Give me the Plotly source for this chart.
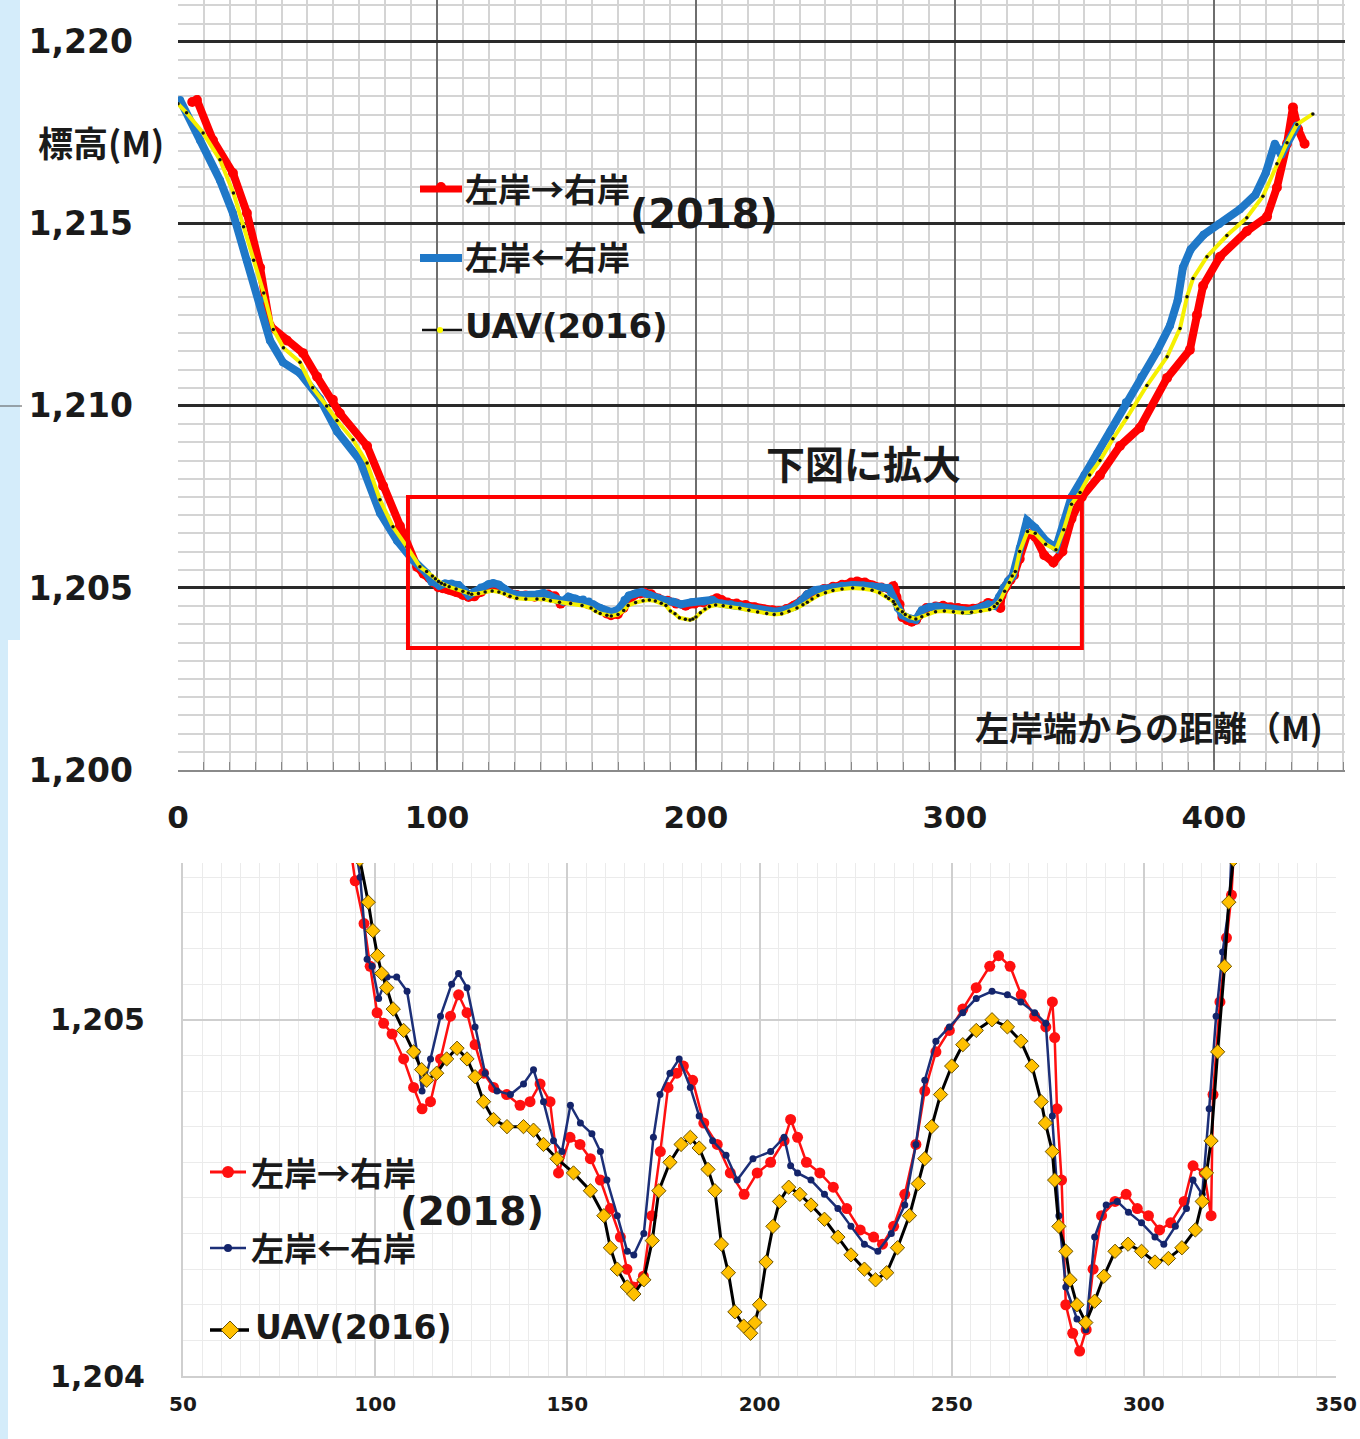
import plotly.graph_objects as go

# ---------------- data (distance from left bank [m], elevation [m]) ----------------
uav_x = [0.0, 3.3, 9.7, 16.2, 21.4, 25.3, 29.2, 33.1, 36.8, 40.7, 47.1, 52.0, 57.4, 61.4, 67.6, 73.0, 78.0, 83.0, 88.4, 93.4, 96.0,
         98.2, 99.4, 100.6, 101.7, 103.0, 104.7, 107.4, 110.0, 112.1, 113.4, 116.0, 118.6, 121.3, 123.9, 126.0, 128.2, 130.8, 134.3,
         138.6, 141.2, 143.8, 147.3, 151.6, 156.0, 159.5, 161.2, 163.0, 165.6, 167.3, 169.9, 172.1, 173.8, 176.7, 179.6, 182.0, 184.3,
         186.6, 188.4, 190.1, 191.9, 193.6, 195.9, 197.7, 198.8, 200.0, 201.7, 203.5, 205.2, 207.6, 210.5, 213.4, 216.9, 220.4, 223.8,
         227.3, 230.2, 233.1, 235.9, 239.0, 241.3, 243.0, 244.8, 247.1, 250.0, 252.9, 256.4, 260.5, 264.5, 268.0, 270.9, 273.3, 274.4,
         276.2, 276.8, 277.9, 279.7, 280.8, 282.6, 284.9, 287.2, 289.6, 292.5, 295.9, 299.4, 302.9, 306.4, 309.9, 313.4, 315.2, 316.3,
         317.5, 319.2, 321.0, 322.1, 323.3,
         325.0, 328.0, 331.0, 335.0, 339.0, 342.0, 345.0, 348.3, 352.0, 356.0, 361.0, 366.4, 374.1, 381.9, 386.9, 389.6, 391.9, 397.3,
         405.0, 412.7, 418.9, 424.3, 428.2, 432.0, 438.2]
uav_y = [1218.3, 1218.05, 1217.5, 1216.76, 1215.85, 1214.92, 1214.0, 1213.1, 1212.1, 1211.6, 1211.2, 1210.5, 1210.0, 1209.6, 1209.07, 1208.43, 1207.42, 1206.68, 1206.13, 1205.58, 1205.45,
         1205.33, 1205.25, 1205.18, 1205.13, 1205.09, 1205.03, 1204.97, 1204.91, 1204.86, 1204.83, 1204.85, 1204.89, 1204.92, 1204.89, 1204.84, 1204.77, 1204.72, 1204.70,
         1204.70, 1204.69, 1204.65, 1204.61, 1204.57, 1204.52, 1204.45, 1204.36, 1204.30, 1204.25, 1204.23, 1204.27, 1204.38, 1204.52, 1204.60, 1204.65, 1204.67, 1204.64,
         1204.58, 1204.52, 1204.37, 1204.29, 1204.18, 1204.14, 1204.12, 1204.15, 1204.20, 1204.32, 1204.42, 1204.49, 1204.53, 1204.51, 1204.48, 1204.44, 1204.39, 1204.34,
         1204.30, 1204.27, 1204.29, 1204.36, 1204.45, 1204.54, 1204.61, 1204.70, 1204.79, 1204.87, 1204.93, 1204.97, 1205.00, 1204.98, 1204.94, 1204.87, 1204.77, 1204.71,
         1204.63, 1204.55, 1204.42, 1204.35, 1204.27, 1204.20, 1204.15, 1204.21, 1204.28, 1204.35, 1204.37, 1204.35, 1204.32, 1204.33, 1204.36, 1204.41, 1204.49, 1204.57,
         1204.66, 1204.91, 1205.15, 1205.33, 1205.45,
         1206.0, 1206.55, 1206.5, 1206.2, 1206.05, 1206.6, 1207.3, 1207.62, 1208.1, 1208.5, 1209.1, 1209.68, 1210.56, 1211.35, 1212.13, 1213.0, 1213.5, 1214.1,
         1214.68, 1215.17, 1215.76, 1216.65, 1217.23, 1217.73, 1218.02]

red_x = [5.5, 7.3, 13.5, 21.2, 26.6, 31.7, 35.5, 42.0, 48.3, 53.7, 59.8, 62.5, 73.0, 79.2, 85.7, 92.3,
         94.8, 97.1, 98.7, 100.5, 102.2, 104.4, 107.4, 110.0, 112.2, 114.4, 117.0, 119.6, 121.7, 123.9, 126.0, 128.2, 130.8, 134.2,
         137.7, 140.3, 142.9, 145.5, 147.7, 150.7, 153.3, 156.0, 158.6, 161.2, 163.8, 165.5, 167.2, 169.8, 172.0, 174.2, 176.2, 178.5,
         180.2, 182.6, 185.5, 189.0, 192.4, 196.0, 199.4, 202.9, 206.4, 208.1, 209.9, 212.2, 215.7, 219.2, 222.7, 226.2, 229.7, 232.0,
         234.9, 237.8, 240.7, 243.0, 245.9, 249.4, 252.9, 256.4, 259.9, 262.2, 265.2, 268.1, 271.6, 274.5, 276.2, 276.8, 277.4, 278.6,
         279.7, 281.5, 283.3, 285.0, 286.8, 289.0, 292.5, 295.4, 298.3, 301.2, 304.1, 307.0, 310.5, 312.8, 315.7, 317.5, 318.0, 319.8,
         321.5, 322.8,
         325.0, 328.0, 331.0, 334.5, 338.0, 341.5, 345.0, 349.0, 356.0, 363.7, 371.4, 381.9, 390.7, 393.4, 395.8, 402.3, 412.7, 420.5,
         424.3, 428.2, 430.5, 432.5, 435.0]
red_y = [1218.35, 1218.4, 1217.3, 1216.4, 1215.3, 1213.8, 1212.2, 1211.8, 1211.45, 1210.8, 1210.17, 1209.8, 1208.9, 1207.8, 1206.7, 1205.58,
         1205.39, 1205.27, 1205.15, 1205.02, 1204.99, 1204.96, 1204.89, 1204.81, 1204.75, 1204.77, 1204.89, 1205.01, 1205.07, 1205.02, 1204.93, 1204.85, 1204.81, 1204.79,
         1204.76, 1204.77, 1204.82, 1204.77, 1204.57, 1204.67, 1204.65, 1204.61, 1204.55, 1204.47, 1204.39, 1204.30, 1204.25, 1204.28, 1204.45, 1204.63, 1204.81, 1204.85,
         1204.87, 1204.83, 1204.71, 1204.65, 1204.57, 1204.51, 1204.57, 1204.60, 1204.66, 1204.72, 1204.67, 1204.60, 1204.57, 1204.53, 1204.47, 1204.41, 1204.39, 1204.37,
         1204.42, 1204.51, 1204.65, 1204.80, 1204.91, 1204.97, 1205.03, 1205.09, 1205.15, 1205.18, 1205.15, 1205.07, 1205.01, 1204.98, 1205.05, 1204.95, 1204.75, 1204.55,
         1204.20, 1204.12, 1204.07, 1204.13, 1204.30, 1204.45, 1204.49, 1204.51, 1204.47, 1204.45, 1204.41, 1204.43, 1204.49, 1204.59, 1204.57, 1204.45, 1204.79, 1205.05,
         1205.23, 1205.35,
         1205.8, 1206.5, 1206.4, 1205.9, 1205.7, 1206.0, 1206.9, 1207.5, 1208.1, 1208.9, 1209.4, 1210.77, 1211.54, 1212.5, 1213.3, 1214.1, 1214.8, 1215.2,
         1216.0, 1217.2, 1218.2, 1217.6, 1217.2]

blue_x = [0.8, 8.5, 16.2, 21.2, 26.6, 31.7, 35.5, 40.5, 47.1, 54.8, 61.4, 70.3, 78.0, 84.6, 90.7,
          96.1, 97.9, 99.2, 100.9, 103.1, 105.6, 108.3, 110.9, 112.2, 114.4, 117.0, 119.9, 121.7, 123.9, 126.0, 128.6, 131.7, 135.2,
          138.6, 141.2, 143.8, 146.4, 148.6, 150.8, 153.4, 156.4, 158.6, 160.3, 163.0, 165.6, 167.3, 169.9, 172.4, 174.1, 176.7, 179.1,
          182.0, 184.3, 187.8, 191.3, 194.2, 198.3, 202.9, 206.4, 208.1, 209.9, 213.4, 216.9, 220.4, 223.8, 227.3, 230.8, 234.3, 237.8,
          240.7, 243.0, 245.9, 249.4, 252.9, 256.4, 260.5, 264.5, 268.0, 271.6, 274.5, 276.2, 277.9, 279.7, 282.6, 284.9, 287.2, 290.2,
          293.1, 296.0, 299.4, 302.9, 305.2, 308.2, 311.1, 312.8, 315.2, 317.0, 318.8, 320.5, 322.3,
          325.0, 327.8, 331.0, 335.0, 339.0, 342.0, 345.0, 350.0, 355.0, 360.0, 366.0, 372.0, 378.0, 383.0, 386.0, 388.0, 391.0, 396.0,
          402.0, 410.0, 416.0, 420.0, 423.5, 426.0, 432.0]
blue_y = [1218.4, 1217.3, 1216.2, 1215.3, 1214.0, 1212.9, 1211.8, 1211.2, 1210.9, 1210.2, 1209.3, 1208.5, 1207.06, 1206.3, 1205.77,
          1205.40, 1205.17, 1205.15, 1205.06, 1205.12, 1205.12, 1205.08, 1204.91, 1204.80, 1204.89, 1205.01, 1205.10, 1205.13, 1205.09, 1204.98, 1204.85, 1204.80, 1204.79,
          1204.82, 1204.86, 1204.77, 1204.66, 1204.63, 1204.76, 1204.71, 1204.68, 1204.63, 1204.55, 1204.45, 1204.35, 1204.34, 1204.40, 1204.67, 1204.79, 1204.85, 1204.89,
          1204.81, 1204.73, 1204.66, 1204.62, 1204.55, 1204.61, 1204.63, 1204.67, 1204.59, 1204.57, 1204.55, 1204.51, 1204.47, 1204.42, 1204.37, 1204.35, 1204.40, 1204.48,
          1204.65, 1204.83, 1204.94, 1204.98, 1205.02, 1205.06, 1205.08, 1205.07, 1205.05, 1205.02, 1204.99, 1204.73, 1204.45, 1204.25, 1204.16, 1204.13, 1204.39, 1204.48,
          1204.49, 1204.46, 1204.43, 1204.39, 1204.37, 1204.42, 1204.47, 1204.55, 1204.51, 1204.75, 1205.01, 1205.19, 1205.33,
          1206.1, 1206.85, 1206.65, 1206.3, 1206.1, 1206.8, 1207.5, 1208.1, 1208.7, 1209.3, 1210.1, 1210.8, 1211.5, 1212.2, 1212.9, 1213.8, 1214.3, 1214.7,
          1215.0, 1215.4, 1215.8, 1216.4, 1217.2, 1216.9, 1217.7]

top_xticks = [0, 100, 200, 300, 400]
top_yticks = [1200, 1205, 1210, 1215, 1220]
bot_xticks = [50, 100, 150, 200, 250, 300, 350]
bot_yticks = [1204, 1205]

name_lr = "左岸→右岸"
name_rl = "左岸←右岸"
name_uav = "UAV(2016)"
year_2018 = "(2018)"

# ---------------- layout helpers (window pixels -> paper) ----------------
W, H = 1360, 1439
OFF = 0  # body margin removed by the post script below
def fx(px):
    return (px - OFF) / W
def fy(py):
    return 1 - (py - OFF) / H

TXT = "#1a1a1a"
JP = "Noto Sans CJK JP"
LAT = "DejaVu Sans"

fig = go.Figure()

# top chart traces
fig.add_trace(go.Scatter(x=red_x, y=red_y, mode="lines+markers", xaxis="x", yaxis="y",
                         line=dict(color="#ff0000", width=8), marker=dict(color="#ff0000", size=10),
                         showlegend=False))
fig.add_trace(go.Scatter(x=blue_x, y=blue_y, mode="lines+markers", xaxis="x", yaxis="y",
                         line=dict(color="#1f78c8", width=8), marker=dict(color="#1f78c8", size=8),
                         showlegend=False))
fig.add_trace(go.Scatter(x=uav_x, y=uav_y, mode="lines+markers", xaxis="x", yaxis="y",
                         line=dict(color="#f5f000", width=4), marker=dict(color="#111111", size=3.5),
                         showlegend=False))

# bottom chart traces
fig.add_trace(go.Scatter(x=red_x, y=red_y, mode="lines+markers", xaxis="x2", yaxis="y2",
                         line=dict(color="#ff1010", width=2.5), marker=dict(color="#ff1010", size=11),
                         showlegend=False))
fig.add_trace(go.Scatter(x=blue_x, y=blue_y, mode="lines+markers", xaxis="x2", yaxis="y2",
                         line=dict(color="#1c2f78", width=2.5), marker=dict(color="#14246a", size=7),
                         showlegend=False))
fig.add_trace(go.Scatter(x=uav_x, y=uav_y, mode="lines+markers", xaxis="x2", yaxis="y2",
                         line=dict(color="#000000", width=3),
                         marker=dict(color="#ffc000", size=11, symbol="diamond",
                                     line=dict(color="#6b5200", width=1)),
                         showlegend=False))

tick_font_top = dict(family=LAT, size=33, color=TXT, weight="bold")

fig.update_layout(
    width=W, height=H,
    margin=dict(l=0, r=0, t=0, b=0),
    paper_bgcolor="white", plot_bgcolor="white",
    showlegend=False,
    xaxis=dict(domain=[fx(178), fx(1345)], range=[0, 450.6], anchor="y",
               tickvals=top_xticks, showgrid=True, gridcolor="#6e6e6e", gridwidth=2,
               zeroline=False, showline=True, linecolor="#8a8a8a", linewidth=2,
               ticks="inside", ticklen=8, tickcolor="#777",
               minor=dict(dtick=10, tick0=0, showgrid=True, gridcolor="#d4d4d4", gridwidth=1.5,
                          ticks="inside", ticklen=8, tickcolor="#888"),
               tickfont=dict(family=LAT, size=31, color=TXT, weight="bold"),
               ticklabelstandoff=19, automargin=False),
    yaxis=dict(domain=[fy(770), 1.0], range=[1200, 1221.15], anchor="x",
               tickvals=top_yticks, tickformat=",.0f", showgrid=True, gridcolor="#2a2a2a", gridwidth=2.5,
               zeroline=False, showline=False, ticks="",
               minor=dict(dtick=0.5, tick0=1200, showgrid=True, gridcolor="#d4d4d4", gridwidth=1.5),
               tickfont=tick_font_top, ticklabelstandoff=44, automargin=False),
    xaxis2=dict(domain=[fx(183), fx(1336)], range=[50, 350], anchor="y2",
                tickvals=bot_xticks, showgrid=True, gridcolor="#cfcfcf", gridwidth=2,
                zeroline=False, showline=True, linecolor="#cfcfcf", linewidth=2, ticks="",
                minor=dict(dtick=5, tick0=50, showgrid=True, gridcolor="#ebebeb", gridwidth=1),
                tickfont=dict(family=LAT, size=20, color=TXT, weight="bold"), ticklabelstandoff=9,
                automargin=False),
    yaxis2=dict(domain=[fy(1376), fy(863)], range=[1204, 1205.44], anchor="x2",
                tickvals=bot_yticks, tickformat=",.0f", showgrid=True, gridcolor="#cfcfcf", gridwidth=2,
                zeroline=False, showline=True, linecolor="#cfcfcf", linewidth=2, ticks="",
                minor=dict(dtick=0.1, tick0=1204, showgrid=True, gridcolor="#ebebeb", gridwidth=1),
                tickfont=dict(family=LAT, size=30, color=TXT, weight="bold"), ticklabelstandoff=30,
                automargin=False),
)

shapes = []
# light blue strips on the left edge
shapes.append(dict(type="rect", xref="paper", yref="paper", x0=fx(0), x1=fx(20), y0=fy(640), y1=fy(0),
                   fillcolor="#d4ecfa", line=dict(width=0), layer="below"))
shapes.append(dict(type="rect", xref="paper", yref="paper", x0=fx(0), x1=fx(8), y0=fy(1439), y1=fy(640),
                   fillcolor="#d4ecfa", line=dict(width=0), layer="below"))
shapes.append(dict(type="line", xref="paper", yref="paper", x0=fx(0), x1=fx(22), y0=fy(406), y1=fy(406),
                   line=dict(color="#555", width=1)))
# red box marking the enlarged part
shapes.append(dict(type="rect", xref="x", yref="y", x0=88.8, x1=349.0, y0=1203.35, y1=1207.5,
                   line=dict(color="#ff0000", width=4), fillcolor="rgba(0,0,0,0)"))

def circ(cx, cy, r, color):
    return dict(type="circle", xref="paper", yref="paper", x0=fx(cx - r), x1=fx(cx + r),
                y0=fy(cy + r), y1=fy(cy - r), fillcolor=color, line=dict(width=0))

def diamond(cx, cy, r, color, edge):
    path = "M {} {} L {} {} L {} {} L {} {} Z".format(fx(cx - r), fy(cy), fx(cx), fy(cy - r),
                                                      fx(cx + r), fy(cy), fx(cx), fy(cy + r))
    return dict(type="path", xref="paper", yref="paper", path=path, fillcolor=color,
                line=dict(color=edge, width=1))

def hline(x0, x1, y, color, width):
    return dict(type="line", xref="paper", yref="paper", x0=fx(x0), x1=fx(x1), y0=fy(y), y1=fy(y),
                line=dict(color=color, width=width))

# top legend keys
shapes += [hline(420, 462, 189, "#ff0000", 7), circ(441, 187, 5, "#ff0000"),
           hline(420, 462, 258, "#1f78c8", 8),
           hline(422, 462, 330, "#111111", 2.5), circ(440, 330, 3, "#ffff00")]
# bottom legend keys
shapes += [hline(210, 246, 1172, "#ff1010", 3), circ(228, 1172, 6, "#ff1010"),
           hline(210, 246, 1248, "#1c2f78", 2.5), circ(228, 1248, 4, "#14246a"),
           hline(210, 249, 1330, "#000000", 3.5), diamond(230, 1330, 9, "#ffc000", "#6b5200")]
fig.update_layout(shapes=shapes)

def ann(text, px, py, size, family=JP, xanchor="left"):
    return dict(text=text, x=fx(px), y=fy(py), xref="paper", yref="paper", showarrow=False,
                xanchor=xanchor, yanchor="middle",
                font=dict(family=family, size=size, color=TXT, weight="bold"))

annotations = [
    ann("標高(M)", 36, 141, 35),
    ann(name_lr, 463, 188, 33),
    ann(year_2018, 628, 214, 40, family=LAT),
    ann(name_rl, 463, 256, 33),
    ann(name_uav, 463, 326, 34, family=LAT),
    ann("下図に拡大", 764, 462, 39),
    ann("左岸端からの距離（M)", 1325, 726, 34, xanchor="right"),
    ann(name_lr, 249, 1172, 33),
    ann(year_2018, 398, 1211, 39, family=LAT),
    ann(name_rl, 249, 1247, 33),
    ann(name_uav, 253, 1327, 33, family=LAT),
]
fig.update_layout(annotations=annotations)

fig.write_html("out.html", config={"displayModeBar": False},
               post_script="document.body.style.margin='0px';")
